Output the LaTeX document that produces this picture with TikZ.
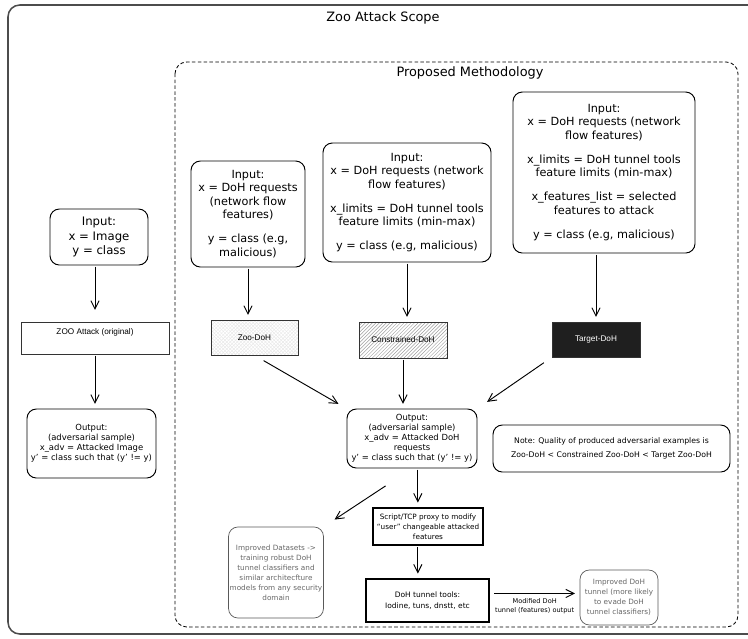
\documentclass[tikz,border=0pt]{standalone}
\usepackage{fontspec}
\setmainfont{DejaVu Sans}
\setsansfont{Liberation Sans}
\usetikzlibrary{arrows.meta,patterns,calc}

\tikzset{
  boxsize/.style args = {#1,#2}{minimum width=#1, minimum height=#2},
  zoo scheme/.style = {
    line width = 0.8pt,
    x = 0.03cm, y = -0.03cm,
    % Titles
    head/.style  = {font=\fontsize{11}{13}\selectfont},
    % Rounded text boxes
    rbox/.style  = {draw, rounded corners=8pt, align=center, inner sep=1pt},
    big/.style   = {font=\fontsize{10}{12}\selectfont},
    mid/.style   = {font=\fontsize{9.6}{11.5}\selectfont},
    small/.style = {font=\fontsize{7.2}{8.6}\selectfont},
    tiny/.style  = {font=\fontsize{6.2}{8.6}\selectfont},
    faint/.style = {rbox, tiny, draw=black!65, text=black!60, line width=0.6pt},
    % Plain boxes
    sbox/.style  = {draw=black!80, line width=0.6pt, align=center, inner sep=1pt,
                    font=\sffamily\fontsize{7}{8}\selectfont},
    tbox/.style  = {draw, line width=1.2pt, align=center, inner sep=1pt, tiny},
    % Lines, arrows
    arr line/.style = {-{Straight Barb[length=7pt,width=7pt]}, line width=0.8pt,
                       shorten >=4pt, shorten <=1pt},
    lab/.style   = {font=\fontsize{5.6}{7.6}\selectfont, align=center, inner sep=1pt},
  }
}

\begin{document}
\begin{tikzpicture}[zoo scheme]
\useasboundingbox (0,0) rectangle (748,639);

%---------------------------------------------
\draw[black!70, line width=1.3pt, rounded corners=10pt]
  (780,5) -- (8,5) -- (8,634) -- (780,634);
\draw[dashed, dash pattern=on 3pt off 2pt, line width=0.7pt, rounded corners=10pt]
  (175,62) rectangle (738,627);
\node[head] (scope) at (383,18) {Zoo Attack Scope};
\node[head] (method) at (470,73) {Proposed Methodology};

%---------------------------------------------
\node[rbox, big, boxsize={2.94cm,1.68cm}] (inL) at (99,237)
  {Input:\\ x = Image\\ y = class};
\node[sbox, boxsize={4.44cm,0.96cm}, text depth=0.38cm] (zooL) at (95,338)
  {ZOO Attack (original)};
\node[rbox, small, boxsize={3.87cm,2.07cm}] (outL) at (91.5,443.5)
  {Output:\\ (adversarial sample)\\ x\_adv = Attacked Image\\ y' = class such that (y' != y)};
\draw[arr line, shorten >=10pt] (zooL.north |- inL.south) -- (zooL.north);
\draw[arr line] (zooL.south) -- (zooL.south |- outL.north);

%---------------------------------------------
\node[rbox, mid, boxsize={3.42cm,3.18cm}] (in1) at (248,214)
  {Input:\\ x = DoH requests\\ (network flow\\ features)\\[9pt]
   y = class (e.g,\\ malicious)};
\node[rbox, mid, boxsize={5.04cm,3.57cm}] (in2) at (407,202.5)
  {Input:\\ x = DoH requests (network\\ flow features)\\[9pt]
   x\_limits = DoH tunnel tools\\ feature limits (min-max)\\[9pt]
   y = class (e.g, malicious)};
\node[rbox, mid, boxsize={5.46cm,4.83cm}] (in3) at (604,172.5)
  {Input:\\ x = DoH requests (network\\ flow features)\\[9pt]
   x\_limits = DoH tunnel tools\\ feature limits (min-max)\\[9pt]
   x\_features\_list = selected\\ features to attack\\[9pt]
   y = class (e.g, malicious)};

\node[sbox, boxsize={2.61cm,1.05cm}, fill=gray!4, pattern=crosshatch,
      pattern color=gray!18] (zdoh) at (254.5,337.5) {Zoo-DoH};
\node[sbox, boxsize={2.64cm,1.08cm}, pattern=north east lines,
      pattern color=gray!75] (cdoh) at (403,340) {Constrained-DoH};
\node[sbox, boxsize={2.64cm,1.05cm}, fill=black!88, text=white] (tdoh)
  at (596,339.5) {Target-DoH};
\draw[arr line] (in1.south) -- (in1.south |- zdoh.north);
\draw[arr line] (in2.south) -- (in2.south |- cdoh.north);
\draw[arr line] (tdoh.north |- in3.south) -- (tdoh.north);

%---------------------------------------------
\node[rbox, small, boxsize={3.9cm,1.77cm}] (outC) at (412,438.5)
  {Output:\\ (adversarial sample)\\ x\_adv = Attacked DoH\\ requests\\
   y' = class such that (y' != y)};
\node[rbox, font=\fontsize{6.6}{8}\selectfont, boxsize={7.11cm,1.41cm}] (note)
  at (611.5,448.5)
  {Note: Quality of produced adversarial examples is\\[4pt]
   Zoo-DoH < Constrained Zoo-DoH < Target Zoo-DoH};
\draw[arr line, shorten <=9pt, shorten >=8pt] (zdoh.south) -- (outC.north west);
\draw[arr line] (cdoh.south) -- (cdoh.south |- outC.north);
\draw[arr line, shorten <=8pt, shorten >=10pt] (tdoh.south west) -- (outC.north east);

%---------------------------------------------
\node[faint, boxsize={2.64cm,2.73cm}] (impD) at (276,572.5)
  {Improved Datasets ->\\ training robust DoH\\ tunnel classifiers and\\
   similar architecfture\\ models from any security\\ domain};
\node[tbox, boxsize={3.3cm,1.11cm}] (script) at (428,526.5)
  {Script/TCP proxy to modify\\ ``user'' changeable attacked\\ features};
\node[tbox, font=\fontsize{6.4}{9.5}\selectfont, boxsize={3.69cm,1.29cm}] (tools)
  at (427.5,600.5) {DoH tunnel tools:\\ Iodine, tuns, dnstt, etc};
\node[faint, boxsize={2.34cm,1.65cm}] (impT) at (619,597.5)
  {Improved DoH\\ tunnel (more likely\\ to evade DoH\\ tunnel classifiers)};

\draw[arr line, shorten <=27pt, shorten >=11pt] (outC.south) -- (impD.north east);
\draw[arr line] ([xshift=5pt]outC.south) -- ([xshift=5pt]outC.south |- script.north);
\draw[arr line] ([xshift=5pt]outC.south |- script.south) -- ([xshift=5pt]outC.south |- tools.north);
\draw[arr line, shorten <=4pt] ([yshift=6pt]tools.east) -- ([yshift=6pt]tools.east -| impT.west)
  node[midway, below=3pt, lab] {Modified DoH\\ tunnel (features) output};

\end{tikzpicture}
\end{document}
